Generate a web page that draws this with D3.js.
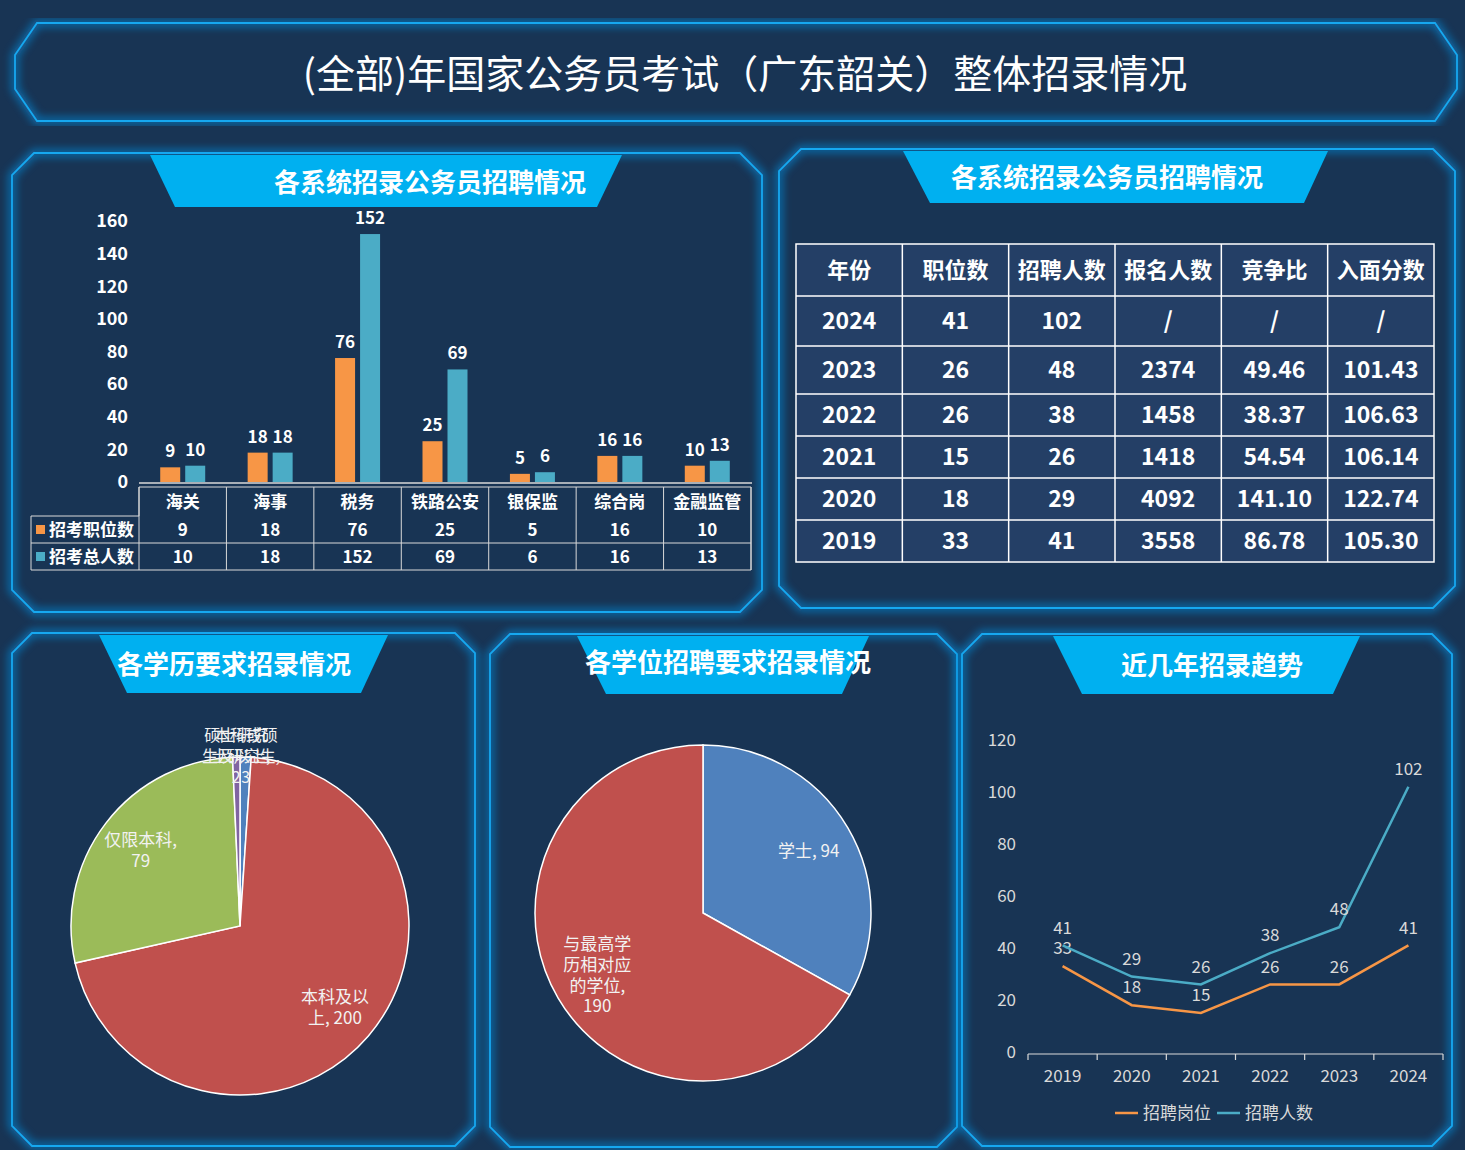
<!DOCTYPE html>
<html>
<head>
<meta charset="utf-8">
<script src="https://cdn.jsdelivr.net/npm/d3@7"></script>
<style>
  html, body { margin: 0; padding: 0; background: #183454; }
  svg { display: block; font-family: "Noto Sans CJK SC", "Noto Sans", sans-serif; }
</style>
</head>
<body>
<div id="chart"></div>
<script>
// ---- data ----
var pageTitle = "(全部)年国家公务员考试（广东韶关）整体招录情况";

var barCats = ["海关", "海事", "税务", "铁路公安", "银保监", "综合岗", "金融监管"];
var barSeries = ["招考职位数", "招考总人数"];
var postCounts = [9, 18, 76, 25, 5, 16, 10];
var hireCounts = [10, 18, 152, 69, 6, 16, 13];

var tableHead = ["年份", "职位数", "招聘人数", "报名人数", "竞争比", "入面分数"];
var tableRows = [
    ["2024", "41", "102", "/", "/", "/"],
    ["2023", "26", "48", "2374", "49.46", "101.43"],
    ["2022", "26", "38", "1458", "38.37", "106.63"],
    ["2021", "15", "26", "1418", "54.54", "106.14"],
    ["2020", "18", "29", "4092", "141.10", "122.74"],
    ["2019", "33", "41", "3558", "86.78", "105.30"]
];

var eduCats = ["本科或硕士研究生", "本科及以上", "仅限本科", "硕士研究生及以上"];
var eduVals = [3, 200, 79, 2];

var degreeCats = ["学士", "与最高学历相对应的学位"];
var degreeVals = [94, 190];

var trendYears = ["2019", "2020", "2021", "2022", "2023", "2024"];
var trendSeries = ["招聘岗位", "招聘人数"];
var trendPosts = [33, 18, 15, 26, 26, 41];
var trendHires = [41, 29, 26, 38, 48, 102];

// ---- colours ----
var bg = "#183454";
var orange = "#f79646";
var teal = "#4bacc6";
var tabBlue = "#00b0f0";
var pieColors = ["#4f81bd", "#c0504d", "#9bbb59", "#8064a2"];

var w = 1465, h = 1150;
var svg = d3.select("#chart").append("svg")
    .attr("width", w)
    .attr("height", h);

svg.append("rect").attr("width", w).attr("height", h).attr("fill", bg);

var defs = svg.append("defs");
defs.append("filter").attr("id", "glow")
    .attr("x", "-5%").attr("y", "-5%").attr("width", "110%").attr("height", "110%")
    .append("feGaussianBlur").attr("stdDeviation", 4);

// chamfered panel outline
function panelPath(x0, y0, x1, y1, cx, cy) {
    return "M" + (x0 + cx) + "," + y0 + "L" + (x1 - cx) + "," + y0 +
        "L" + x1 + "," + (y0 + cy) + "L" + x1 + "," + (y1 - cy) +
        "L" + (x1 - cx) + "," + y1 + "L" + (x0 + cx) + "," + y1 +
        "L" + x0 + "," + (y1 - cy) + "L" + x0 + "," + (y0 + cy) + "Z";
}

function panel(x0, y0, x1, y1, cx, cy) {
    var d = panelPath(x0, y0, x1, y1, cx, cy);
    svg.append("path").attr("d", d).attr("fill", bg);
    svg.append("path").attr("d", d).attr("fill", "none")
        .attr("stroke", "#0a88d6").attr("stroke-width", 7)
        .attr("opacity", 0.75).attr("filter", "url(#glow)");
    svg.append("path").attr("d", d).attr("fill", "none")
        .attr("stroke", "#16a8f0").attr("stroke-width", 1.8);
}

// trapezoid header tab
function tab(tx0, tx1, bx0, bx1, y0, y1, label, textX, textY) {
    svg.append("path")
        .attr("d", "M" + tx0 + "," + y0 + "L" + tx1 + "," + y0 + "L" + bx1 + "," + y1 + "L" + bx0 + "," + y1 + "Z")
        .attr("fill", tabBlue);
    svg.append("text")
        .attr("x", textX).attr("y", textY)
        .attr("text-anchor", "middle")
        .attr("fill", "#fff")
        .attr("font-size", 26)
        .attr("font-weight", 700)
        .text(label);
}

// ---- title ----
panel(15, 23, 1457, 121, 22, 32);
svg.append("text")
    .attr("x", 745).attr("y", 88)
    .attr("text-anchor", "middle")
    .attr("fill", "#fff")
    .attr("font-size", 39)
    .text(pageTitle);

// ---- panels ----
panel(12, 153, 762, 612, 22, 22);
tab(150, 622, 175, 597, 155, 207, "各系统招录公务员招聘情况", 430, 192);

panel(779, 149, 1455, 608, 22, 22);
tab(903, 1328, 930, 1304, 151, 203, "各系统招录公务员招聘情况", 1107, 187);

panel(12, 633, 475, 1146, 20, 20);
tab(99, 388, 127, 361, 635, 693, "各学历要求招录情况", 234, 674);

panel(490, 634, 957, 1147, 20, 20);
tab(577, 869, 606, 842, 636, 694, "各学位招聘要求招录情况", 728, 672);

panel(962, 634, 1452, 1146, 20, 20);
tab(1053, 1360, 1082, 1333, 636, 694, "近几年招录趋势", 1212, 675);

// ---- bar chart with data table ----
var bar = svg.append("g");
var x = d3.scaleBand().domain(barCats).range([139, 751]);
var xSub = d3.scaleBand().domain(barSeries).range([-22.5, 22.5]).paddingInner(0.2);
var y = d3.scaleLinear().domain([0, 160]).range([482, 221]);

var barData = [];
barCats.forEach(function (c, i) {
    barData.push({ cat: c, s: barSeries[0], v: postCounts[i], color: orange });
    barData.push({ cat: c, s: barSeries[1], v: hireCounts[i], color: teal });
});

bar.selectAll(".ytick")
    .data(y.ticks(8))
    .enter().append("text")
    .attr("x", 128).attr("y", d => y(d))
    .attr("dy", "0.35em")
    .attr("text-anchor", "end")
    .attr("fill", "#fff").attr("font-size", 18).attr("font-weight", 700)
    .text(d => d);

bar.selectAll("rect.bar")
    .data(barData)
    .enter().append("rect")
    .attr("class", "bar")
    .attr("x", d => x(d.cat) + x.bandwidth() / 2 + xSub(d.s))
    .attr("y", d => y(d.v))
    .attr("width", xSub.bandwidth())
    .attr("height", d => y(0) - y(d.v))
    .attr("fill", d => d.color);

bar.selectAll(".blabel")
    .data(barData)
    .enter().append("text")
    .attr("x", d => x(d.cat) + x.bandwidth() / 2 + xSub(d.s) + xSub.bandwidth() / 2)
    .attr("y", d => y(d.v) - 10)
    .attr("text-anchor", "middle")
    .attr("fill", "#fff").attr("font-size", 17).attr("font-weight", 700)
    .text(d => d.v);

bar.append("line")
    .attr("x1", 139).attr("x2", 752)
    .attr("y1", y(0) + 1).attr("y2", y(0) + 1)
    .attr("stroke", "#d9d9d9").attr("stroke-width", 1.5);

// data table under the bars
var tLine = "#d9d9d9";
var rowTop = 487, rowMid = 516, rowMid2 = 543, rowBot = 570, leftCol = 31;
var grid = bar.append("g").attr("stroke", tLine).attr("stroke-width", 1).attr("fill", "none");
grid.append("path").attr("d",
    "M139," + rowTop + "H751V" + rowBot + "H" + leftCol + "V" + rowMid + "H139Z");
grid.append("line").attr("x1", leftCol).attr("x2", 751).attr("y1", rowMid2).attr("y2", rowMid2);
grid.selectAll("line.v")
    .data(barCats.slice(1).concat(["_end"]))
    .enter().append("line")
    .attr("class", "v")
    .attr("x1", d => d === "_end" ? 751 : x(d))
    .attr("x2", d => d === "_end" ? 751 : x(d))
    .attr("y1", rowTop).attr("y2", rowBot);
grid.append("line").attr("x1", 139).attr("x2", 139).attr("y1", rowTop).attr("y2", rowBot);

bar.selectAll(".catlabel")
    .data(barCats)
    .enter().append("text")
    .attr("x", d => x(d) + x.bandwidth() / 2)
    .attr("y", (rowTop + rowMid) / 2)
    .attr("dy", "0.36em")
    .attr("text-anchor", "middle")
    .attr("fill", "#fff").attr("font-size", 17).attr("font-weight", 700)
    .text(d => d);

[[postCounts, orange, (rowMid + rowMid2) / 2], [hireCounts, teal, (rowMid2 + rowBot) / 2]].forEach(function (r, k) {
    bar.append("rect")
        .attr("x", 36).attr("y", r[2] - 4.5)
        .attr("width", 9).attr("height", 9)
        .attr("fill", r[1]);
    bar.append("text")
        .attr("x", 49).attr("y", r[2]).attr("dy", "0.36em")
        .attr("fill", "#fff").attr("font-size", 17).attr("font-weight", 700)
        .text(barSeries[k]);
    bar.selectAll(".tv" + k)
        .data(r[0])
        .enter().append("text")
        .attr("x", (d, i) => x(barCats[i]) + x.bandwidth() / 2)
        .attr("y", r[2]).attr("dy", "0.36em")
        .attr("text-anchor", "middle")
        .attr("fill", "#fff").attr("font-size", 17).attr("font-weight", 700)
        .text(d => d);
});

// ---- yearly table ----
var tbl = svg.append("g");
var colX = d3.scaleBand().domain(d3.range(tableHead.length)).range([796, 1434]);
var rowH = [52, 50, 48, 42, 42, 42, 42];
var rowY = [244];
rowH.forEach(function (hh, i) { rowY.push(rowY[i] + hh); });
var allRows = [tableHead].concat(tableRows);

tbl.append("rect")
    .attr("x", 796).attr("y", rowY[0])
    .attr("width", 638).attr("height", rowY[rowY.length - 1] - rowY[0])
    .attr("fill", "#243f66").attr("stroke", "#fff").attr("stroke-width", 1.5);
tbl.selectAll("line.h")
    .data(rowY.slice(1, -1))
    .enter().append("line")
    .attr("x1", 796).attr("x2", 1434)
    .attr("y1", d => d).attr("y2", d => d)
    .attr("stroke", "#fff").attr("stroke-width", 1.5);
tbl.selectAll("line.v")
    .data(d3.range(1, tableHead.length))
    .enter().append("line")
    .attr("x1", d => colX(d)).attr("x2", d => colX(d))
    .attr("y1", rowY[0]).attr("y2", rowY[rowY.length - 1])
    .attr("stroke", "#fff").attr("stroke-width", 1.5);

allRows.forEach(function (row, ri) {
    tbl.selectAll(".r" + ri)
        .data(row)
        .enter().append("text")
        .attr("x", (d, ci) => colX(ci) + colX.bandwidth() / 2)
        .attr("y", (rowY[ri] + rowY[ri + 1]) / 2)
        .attr("dy", "0.36em")
        .attr("text-anchor", "middle")
        .attr("fill", "#fff")
        .attr("font-size", ri === 0 ? 22 : 23)
        .attr("font-weight", 700)
        .text(d => d);
});

// ---- pies ----
function wrapLabel(str, maxW) {
    var tokens = str.match(/[\u4e00-\u9fff][,，]?|[^\u4e00-\u9fff\s]+|\s+/g);
    var lines = [], cur = "", cw = 0;
    tokens.forEach(function (t) {
        var tw = 0;
        for (var i = 0; i < t.length; i++) tw += /[\u4e00-\u9fff]/.test(t[i]) ? 1 : 0.55;
        if (/^\s+$/.test(t) && cur === "") return;
        if (cw + tw > maxW && cur !== "") {
            lines.push(cur.trim());
            if (/^\s+$/.test(t)) { cur = ""; cw = 0; return; }
            cur = t; cw = tw;
        } else {
            cur += t; cw += tw;
        }
    });
    if (cur.trim() !== "") lines.push(cur.trim());
    return lines;
}

function drawPie(cats, vals, cx, cy, r, labelR) {
    var g = svg.append("g").attr("transform", "translate(" + cx + "," + cy + ")");
    var total = d3.sum(vals);
    var data = cats.map((c, i) => ({ name: c, v: vals[i], color: pieColors[i] }));
    var arcs = d3.pie().sort(null).value(d => d.v)(data);
    var arc = d3.arc().innerRadius(0).outerRadius(r);
    g.selectAll("path")
        .data(arcs)
        .enter().append("path")
        .attr("d", arc)
        .attr("fill", d => d.data.color)
        .attr("stroke", "#fff").attr("stroke-width", 1.5);
    arcs.forEach(function (a) {
        var small = a.data.v / total < 0.03;
        var rr = small ? r + 1 : r * labelR;
        var mid = (a.startAngle + a.endAngle) / 2;
        var lines = wrapLabel(a.data.name + ", " + a.data.v, 4.6);
        var lx = rr * Math.sin(mid), ly = -rr * Math.cos(mid);
        var lh = 20.7;
        var top = small ? ly - lh : ly - (lines.length - 1) * lh / 2;
        var t = g.append("text")
            .attr("text-anchor", "middle")
            .attr("fill", "#f2f2f2")
            .attr("font-size", small ? 16 : 17);
        lines.forEach(function (ln, i) {
            t.append("tspan")
                .attr("x", lx)
                .attr("y", top + i * lh)
                .attr("dy", "0.36em")
                .text(ln);
        });
    });
}

drawPie(eduCats, eduVals, 240, 926, 169, 0.74);
drawPie(degreeCats, degreeVals, 703, 913, 168, 0.73);

// ---- trend lines ----
var ln = svg.append("g");
var lx = d3.scaleBand().domain(trendYears).range([1028, 1443]);
var ly = d3.scaleLinear().domain([0, 120]).range([1052, 740]);
var lineColor = "#d9d9d9";

ln.selectAll(".ly")
    .data(ly.ticks(6))
    .enter().append("text")
    .attr("x", 1016).attr("y", d => ly(d)).attr("dy", "0.36em")
    .attr("text-anchor", "end")
    .attr("fill", lineColor).attr("font-size", 17)
    .text(d => d);

ln.append("line")
    .attr("x1", 1028).attr("x2", 1443)
    .attr("y1", ly(0) + 2).attr("y2", ly(0) + 2)
    .attr("stroke", lineColor).attr("stroke-width", 1.2);
ln.selectAll(".tk")
    .data(trendYears.map(d => lx(d)).concat([lx.range()[1]]))
    .enter().append("line")
    .attr("x1", d => d).attr("x2", d => d)
    .attr("y1", ly(0) + 2).attr("y2", ly(0) + 8)
    .attr("stroke", lineColor).attr("stroke-width", 1.2);
ln.selectAll(".lxl")
    .data(trendYears)
    .enter().append("text")
    .attr("x", d => lx(d) + lx.bandwidth() / 2)
    .attr("y", 1076).attr("dy", "0.36em")
    .attr("text-anchor", "middle")
    .attr("fill", lineColor).attr("font-size", 17)
    .text(d => d);

var line = d3.line()
    .x((d, i) => lx(trendYears[i]) + lx.bandwidth() / 2)
    .y(d => ly(d));

[[trendPosts, orange], [trendHires, teal]].forEach(function (s) {
    ln.append("path")
        .attr("d", line(s[0]))
        .attr("fill", "none")
        .attr("stroke", s[1]).attr("stroke-width", 2.5);
    ln.selectAll(null)
        .data(s[0])
        .enter().append("text")
        .attr("x", (d, i) => lx(trendYears[i]) + lx.bandwidth() / 2)
        .attr("y", d => ly(d) - 18).attr("dy", "0.36em")
        .attr("text-anchor", "middle")
        .attr("fill", lineColor).attr("font-size", 17)
        .text(d => d);
});

// legend
var lgX = [1115, 1217];
[[orange, trendSeries[0]], [teal, trendSeries[1]]].forEach(function (s, i) {
    ln.append("line")
        .attr("x1", lgX[i]).attr("x2", lgX[i] + 23)
        .attr("y1", 1113).attr("y2", 1113)
        .attr("stroke", s[0]).attr("stroke-width", 2.5);
    ln.append("text")
        .attr("x", lgX[i] + 28).attr("y", 1113).attr("dy", "0.36em")
        .attr("fill", lineColor).attr("font-size", 17)
        .text(s[1]);
});
</script>
</body>
</html>
